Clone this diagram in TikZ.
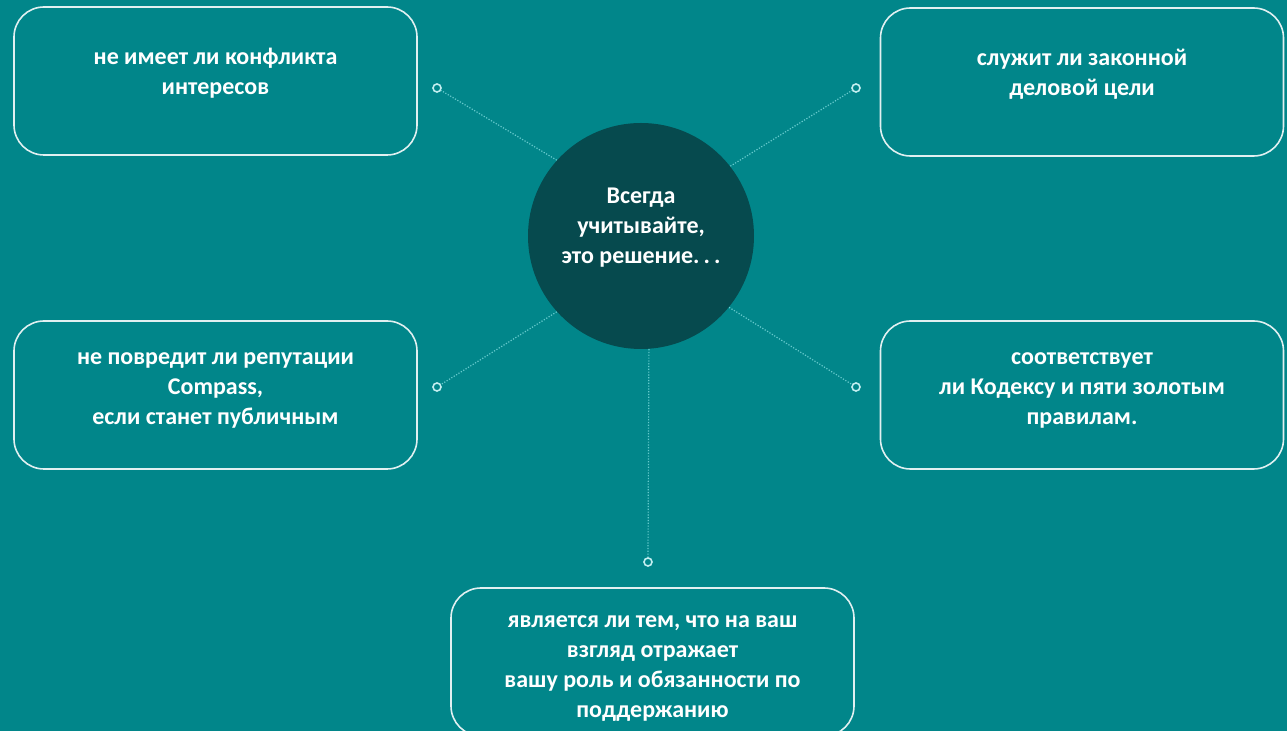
\documentclass[tikz,border=0pt]{standalone}
\usepackage{fontspec}
\setmainfont{Carlito}
\usetikzlibrary{positioning}
\definecolor{bg}{HTML}{01868A}
\definecolor{hubfill}{HTML}{064A4E}
\definecolor{dotline}{HTML}{66CACD}
\definecolor{ringcol}{HTML}{C4EEF0}
\begin{document}
\begin{tikzpicture}[x=0.5pt,y=-0.5pt,
    box/.style={draw=white!88!bg, line width=0.8pt, rounded corners=15pt,
      minimum width=201.5pt, minimum height=74pt},
    txt/.style={align=center, text=white, yshift=4pt,
      font=\bfseries\fontsize{12}{15}\selectfont},
    hub/.style={circle, fill=hubfill, minimum size=113pt, inner sep=0pt},
    ring/.style={circle, draw=ringcol, fill=bg, line width=0.8pt,
      minimum size=4pt, inner sep=0pt},
    link/.style={dotline, line width=0.6pt, dash pattern=on 0.6pt off 0.8pt}]
    \clip (0,0) rectangle (1287,731);
    \fill[bg] (0,0) rectangle (1287,731);
    % centre
    \node[hub] (H) at (641,236) {};
    \node[txt] at (H) {Всегда\\учитывайте,\\это решение.\,.\,.};
    % boxes
    \node[box] (A) at (215.5,81) {};
    \node[box] (B) at (1082,82) {};
    \node[box] (C) at (215.5,395) {};
    \node[box] (D) at (1082,395) {};
    \node[box] (E) at (652.5,662) {};
    \node[txt] at (A) {не имеет ли конфликта\\интересов};
    \node[txt] at (B) {служит ли законной\\деловой цели};
    \node[txt, yshift=-1.5pt] at (C) {не повредит ли репутации\\Compass,\\если станет публичным};
    \node[txt, yshift=-1.5pt] at (D) {соответствует\\ли Кодексу и пяти золотым\\правилам.};
    \node[txt, yshift=-7.5pt] at (E) {является ли тем, что на ваш\\взгляд отражает\\вашу роль и обязанности по\\поддержанию};
    % rings and links
    \node[ring] (a) at (437,88) {};
    \node[ring] (b) at (856,88) {};
    \node[ring] (c) at (437,387) {};
    \node[ring] (d) at (856,387) {};
    \node[ring] (e) at (648,562) {};
    \draw[link] (H.138) -- (a);
    \draw[link] (H.38) -- (b);
    \draw[link] (H.222) -- (c);
    \draw[link] (H.321) -- (d);
    \draw[link] (H.274) -- (e);
\end{tikzpicture}
\end{document}
